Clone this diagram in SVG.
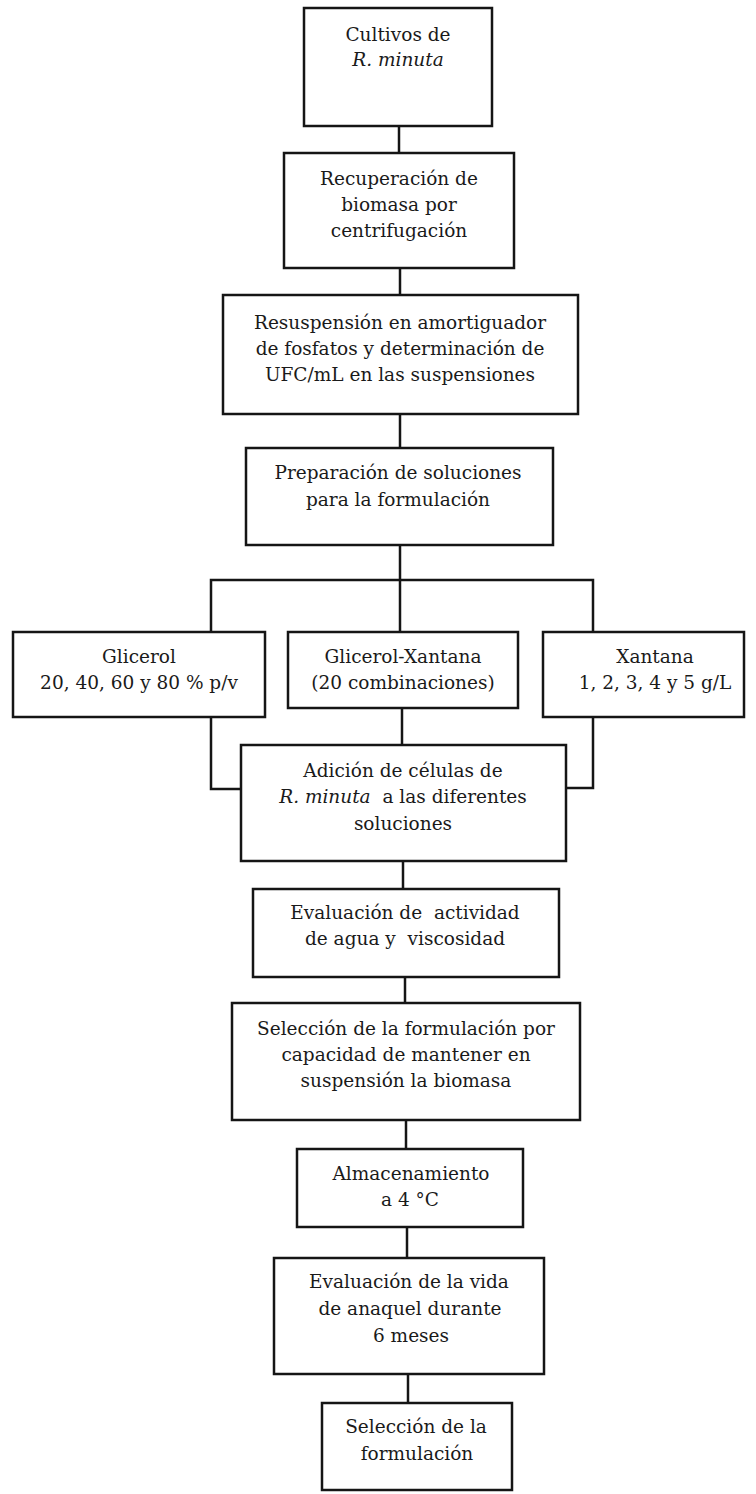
<svg xmlns="http://www.w3.org/2000/svg" width="756" height="1494" viewBox="0 0 756 1494">
<style>
.b{fill:#fff;stroke:#151515;stroke-width:2.5}
.c{fill:none;stroke:#151515;stroke-width:2.5}
text{font-family:"DejaVu Serif","Liberation Serif",serif;font-size:18.5px;fill:#1a1a1a;text-anchor:middle}
.i{font-style:italic}
</style>
<rect width="756" height="1494" fill="#fff"/>
<g id="connectors">
<path class="c" d="M399 126V153"/>
<path class="c" d="M400 268V295"/>
<path class="c" d="M400 414V448"/>
<path class="c" d="M400 545V632"/>
<path class="c" d="M211 632V580H593V632"/>
<path class="c" d="M402 708V745"/>
<path class="c" d="M211 717V789H241"/>
<path class="c" d="M593 717V788H566"/>
<path class="c" d="M403 861V889"/>
<path class="c" d="M405 977V1003"/>
<path class="c" d="M406 1120V1149"/>
<path class="c" d="M407 1227V1258"/>
<path class="c" d="M408 1374V1403"/>
</g>
<g id="n1"><rect class="b" x="304" y="8" width="188" height="118"/>
<text x="398" y="41">Cultivos de</text><text x="398" y="66" class="i">R. minuta</text></g>
<g id="n2"><rect class="b" x="284" y="153" width="230" height="115"/>
<text x="399" y="185">Recuperación de</text><text x="399" y="211">biomasa por</text><text x="399" y="237">centrifugación</text></g>
<g id="n3"><rect class="b" x="223" y="295" width="355" height="119"/>
<text x="400" y="329">Resuspensión en amortiguador</text><text x="400" y="355">de fosfatos y determinación de</text><text x="400" y="381">UFC/mL en las suspensiones</text></g>
<g id="n4"><rect class="b" x="246" y="448" width="307" height="97"/>
<text x="398" y="479">Preparación de soluciones</text><text x="398" y="506">para la formulación</text></g>
<g id="n5"><rect class="b" x="13" y="632" width="252" height="85"/>
<text x="139" y="663">Glicerol</text><text x="139" y="689">20, 40, 60 y 80 % p/v</text></g>
<g id="n6"><rect class="b" x="288" y="632" width="230" height="76"/>
<text x="403" y="663">Glicerol-Xantana</text><text x="403" y="689">(20 combinaciones)</text></g>
<g id="n7"><rect class="b" x="543" y="632" width="201" height="85"/>
<text x="655" y="663">Xantana</text><text x="655" y="689">1, 2, 3, 4 y 5 g/L</text></g>
<g id="n8"><rect class="b" x="241" y="745" width="325" height="116"/>
<text x="403" y="777">Adición de células de</text><text x="403" y="803" xml:space="preserve"><tspan class="i">R. minuta</tspan>  a las diferentes</text><text x="403" y="830">soluciones</text></g>
<g id="n9"><rect class="b" x="253" y="889" width="306" height="88"/>
<text x="405" y="919" xml:space="preserve">Evaluación de  actividad</text><text x="405" y="945" xml:space="preserve">de agua y  viscosidad</text></g>
<g id="n10"><rect class="b" x="232" y="1003" width="348" height="117"/>
<text x="406" y="1035">Selección de la formulación por</text><text x="406" y="1061">capacidad de mantener en</text><text x="406" y="1087">suspensión la biomasa</text></g>
<g id="n11"><rect class="b" x="297" y="1149" width="226" height="78"/>
<text x="411" y="1180">Almacenamiento</text><text x="410" y="1206">a 4 °C</text></g>
<g id="n12"><rect class="b" x="274" y="1258" width="270" height="116"/>
<text x="409" y="1288">Evaluación de la vida</text><text x="410" y="1315">de anaquel durante</text><text x="411" y="1342">6 meses</text></g>
<g id="n13"><rect class="b" x="322" y="1403" width="190" height="87"/>
<text x="416" y="1433">Selección de la</text><text x="417" y="1460">formulación</text></g>
</svg>
